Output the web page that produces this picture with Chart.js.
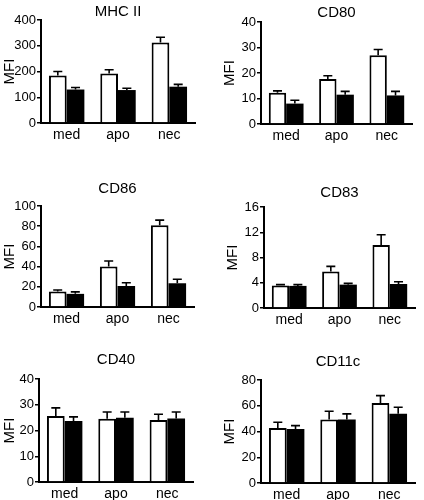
<!DOCTYPE html>
<html>
<head>
<meta charset="utf-8">
<script src="https://cdn.jsdelivr.net/npm/chart.js@4.4.0/dist/chart.umd.min.js"></script>
<style>
body{margin:0;background:#fff;width:424px;height:500px;overflow:hidden;position:relative}
.panel{position:absolute}
</style>
</head>
<body>
<div class="panel" style="left:0;top:0;width:212px;height:166px"><canvas id="c0"></canvas></div>
<div class="panel" style="left:212px;top:0;width:212px;height:166px"><canvas id="c1"></canvas></div>
<div class="panel" style="left:0;top:168px;width:212px;height:170px"><canvas id="c2"></canvas></div>
<div class="panel" style="left:212px;top:168px;width:212px;height:170px"><canvas id="c3"></canvas></div>
<div class="panel" style="left:0;top:336px;width:212px;height:180px"><canvas id="c4"></canvas></div>
<div class="panel" style="left:212px;top:336px;width:212px;height:180px"><canvas id="c5"></canvas></div>
<script>
const categories = ['med', 'apo', 'nec']
const titles = ['MHC II', 'CD80', 'CD86', 'CD83', 'CD40', 'CD11c']
const yMax = [400, 40, 100, 16, 40, 80]
const yStep = [100, 10, 20, 4, 10, 20]

// open (white) bars and filled (black) bars, mean and upper error
const mhcOpen = [184, 192, 313]
const mhcOpenErr = [16, 15, 20]
const mhcFilled = [130, 128, 141]
const mhcFilledErr = [8, 7, 9]

const cd80Open = [12.3, 17.6, 27]
const cd80OpenErr = [0.7, 1.3, 2.2]
const cd80Filled = [8, 11.5, 11.2]
const cd80FilledErr = [1.3, 1.3, 1.6]

const cd86Open = [15.3, 40, 81]
const cd86OpenErr = [1.5, 5.5, 5]
const cd86Filled = [13, 20.8, 23.5]
const cd86FilledErr = [2, 3.2, 4]

const cd83Open = [3.55, 5.8, 10]
const cd83OpenErr = [0.15, 0.8, 1.6]
const cd83Filled = [3.5, 3.7, 3.8]
const cd83FilledErr = [0.2, 0.2, 0.35]

const cd40Open = [25.6, 24.6, 24.1]
const cd40OpenErr = [3.2, 2.6, 2.2]
const cd40Filled = [23.7, 25, 24.7]
const cd40FilledErr = [1.6, 2.2, 2.5]

const cd11cOpen = [42.8, 49.3, 62.2]
const cd11cOpenErr = [4.4, 6.4, 5.7]
const cd11cFilled = [42, 49.3, 53.7]
const cd11cFilledErr = [2.6, 4.4, 5.1]

const openSets = [mhcOpen, cd80Open, cd86Open, cd83Open, cd40Open, cd11cOpen]
const openErrs = [mhcOpenErr, cd80OpenErr, cd86OpenErr, cd83OpenErr, cd40OpenErr, cd11cOpenErr]
const filledSets = [mhcFilled, cd80Filled, cd86Filled, cd83Filled, cd40Filled, cd11cFilled]
const filledErrs = [mhcFilledErr, cd80FilledErr, cd86FilledErr, cd83FilledErr, cd40FilledErr, cd11cFilledErr]

// per panel layout: padding and title spacing
const boxes = [
  {pl: 0, pr: 17, pb: 15, yw: 41, tt: 4.5, tb: 0.5},
  {pl: 8, pr: 12, pb: 14, yw: 41, tt: 5.7, tb: 1.3},
  {pl: 0, pr: 18, pb: 3, yw: 41, tt: 13, tb: 10},
  {pl: 11, pr: 9, pb: 2, yw: 41, tt: 17, tb: 7},
  {pl: 0, pr: 19, pb: 6, yw: 39, tt: 16, tb: 12},
  {pl: 8, pr: 9, pb: 5, yw: 41, tt: 18.7, tb: 10.3}
]

const font = 'Liberation Sans, Arial, Helvetica, sans-serif'

const errorBars = {
  id: 'errorBars',
  afterDatasetsDraw(chart) {
    const ctx = chart.ctx
    const y = chart.scales.y
    ctx.save()
    ctx.strokeStyle = '#000'
    ctx.lineWidth = 1.6
    chart.data.datasets.forEach((ds, i) => {
      chart.getDatasetMeta(i).data.forEach((bar, j) => {
        const top = y.getPixelForValue(ds.data[j] + ds.errors[j])
        ctx.beginPath()
        ctx.moveTo(bar.x, bar.y)
        ctx.lineTo(bar.x, top)
        ctx.moveTo(bar.x - 4.5, top)
        ctx.lineTo(bar.x + 4.5, top)
        ctx.stroke()
      })
    })
    ctx.restore()
  }
}

titles.forEach((title, k) => {
  const b = boxes[k]
  new Chart(document.getElementById('c' + k), {
    type: 'bar',
    data: {
      labels: categories,
      datasets: [{
        data: openSets[k],
        errors: openErrs[k],
        backgroundColor: '#fff',
        borderColor: '#000',
        borderWidth: 2,
        borderSkipped: 'start'
      }, {
        data: filledSets[k],
        errors: filledErrs[k],
        backgroundColor: '#000',
        borderWidth: 0
      }]
    },
    options: {
      responsive: true,
      maintainAspectRatio: false,
      animation: false,
      datasets: {
        bar: {barPercentage: 1, categoryPercentage: 0.69}
      },
      layout: {padding: {left: b.pl, right: b.pr, top: 0, bottom: b.pb}},
      scales: {
        x: {
          grid: {display: false, drawTicks: false},
          border: {display: true, color: '#000', width: 2},
          ticks: {color: '#000', padding: 4, font: {family: font, size: 14}},
          afterFit: (s) => { s.height = 28 }
        },
        y: {
          min: 0,
          max: yMax[k],
          ticks: {stepSize: yStep[k], color: '#000', padding: 1, font: {family: font, size: 13}},
          grid: {drawOnChartArea: false, drawTicks: true, tickLength: 4, color: '#000', lineWidth: 1.5},
          border: {display: true, color: '#000', width: 2},
          title: {display: true, text: 'MFI', color: '#000', padding: 1, font: {family: font, size: 15}},
          afterFit: (s) => { s.width = b.yw }
        }
      },
      plugins: {
        legend: {display: false},
        tooltip: {enabled: false},
        title: {
          display: true,
          text: title,
          fullSize: false,
          color: '#000',
          font: {family: font, size: 15, weight: 'normal', lineHeight: 1},
          padding: {top: b.tt, bottom: b.tb}
        }
      }
    },
    plugins: [errorBars]
  })
})
</script>
</body>
</html>
